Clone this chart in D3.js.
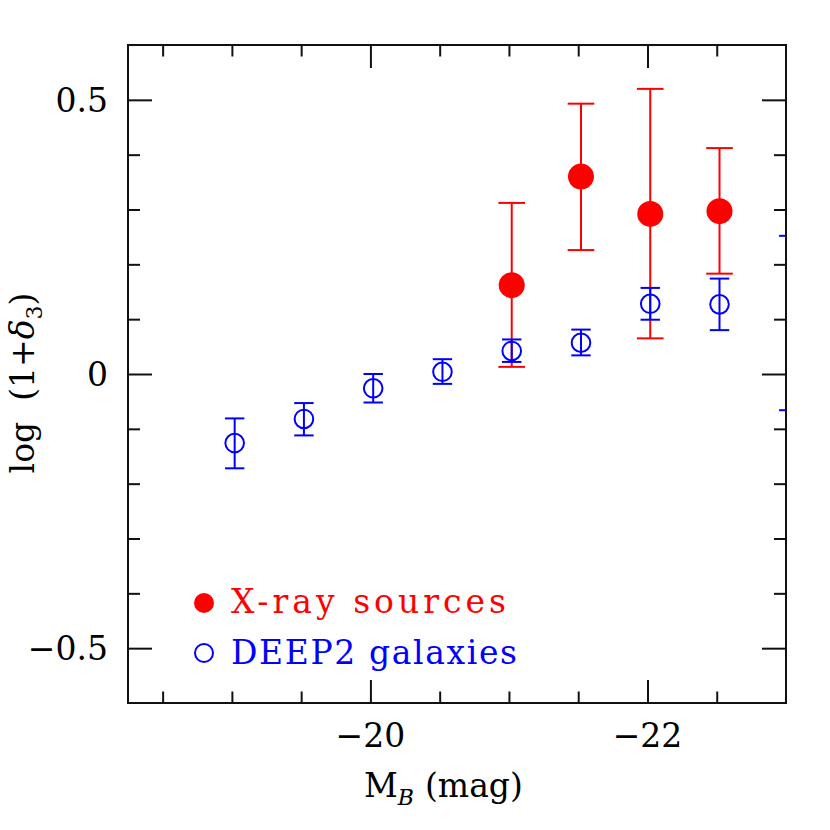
<!DOCTYPE html>
<html><head><meta charset="utf-8">
<script src="https://cdn.jsdelivr.net/npm/d3@7"></script>
<style>body{margin:0;background:#fff}svg{display:block}</style>
</head><body>
<svg id="c" width="830" height="830"></svg>
<script>
// Data
const deep2X   = [-19.02, -19.52, -20.02, -20.52, -21.02, -21.52, -22.02, -22.52, -23.02];
const deep2Y   = [-0.126, -0.082, -0.026, 0.004, 0.042, 0.057, 0.128, 0.127, 0.093];
const deep2Lo  = [-0.172, -0.112, -0.052, -0.018, 0.022, 0.034, 0.099, 0.080, -0.066];
const deep2Hi  = [-0.081, -0.053, 0.000, 0.027, 0.063, 0.081, 0.157, 0.174, 0.252];
const xrayX    = [-21.02, -21.52, -22.02, -22.52];
const xrayY    = [0.162, 0.360, 0.292, 0.297];
const xrayLo   = [0.013, 0.226, 0.065, 0.183];
const xrayHi   = [0.312, 0.493, 0.520, 0.412];
const xMajor   = [-20, -22];
const xMajorLabels = ["\u221220", "\u221222"];
const xMinor   = [-18.5, -19, -19.5, -20.5, -21, -21.5, -22.5];
const yMajor   = [-0.5, 0, 0.5];
const yMajorLabels = ["\u22120.5", "0", "0.5"];
const yMinor   = [-0.4, -0.3, -0.2, -0.1, 0.1, 0.2, 0.3, 0.4];
const legendLabels = ["X-ray sources", "DEEP2 galaxies"];

const L = 128, R = 786, T = 45, B = 703;
const x = d3.scaleLinear().domain([-18.25, -23]).range([L, R]);
const y = d3.scaleLinear().domain([-0.6, 0.6]).range([B, T]);
const svg = d3.select("#c");
const font = "'DejaVu Serif', serif";
const RED = "#ff0000", BLUE = "#0000ff";

// clip
svg.append("defs").append("clipPath").attr("id","clip")
  .append("rect").attr("x",L).attr("y",T).attr("width",R-L).attr("height",B-T);

// ticks via axes
function tickAxis(axisFn, scale, vals, size, transform){
  const g = svg.append("g").attr("transform", transform)
    .call(axisFn(scale).tickValues(vals).tickSize(size).tickFormat(""));
  g.select(".domain").remove();
  g.selectAll(".tick line").attr("stroke","#111").attr("stroke-width",2);
  return g;
}
tickAxis(d3.axisBottom, x, xMajor, -23, `translate(0,${B})`);
tickAxis(d3.axisBottom, x, xMinor, -11.5, `translate(0,${B})`);
tickAxis(d3.axisTop, x, xMajor, -23, `translate(0,${T})`);
tickAxis(d3.axisTop, x, xMinor, -11.5, `translate(0,${T})`);
tickAxis(d3.axisLeft, y, yMajor, -24, `translate(${L},0)`);
tickAxis(d3.axisLeft, y, yMinor, -12, `translate(${L},0)`);
tickAxis(d3.axisRight, y, yMajor, -24, `translate(${R},0)`);
tickAxis(d3.axisRight, y, yMinor, -12, `translate(${R},0)`);

// frame
svg.append("rect").attr("x",L).attr("y",T).attr("width",R-L).attr("height",B-T)
  .attr("fill","none").attr("stroke","#111").attr("stroke-width",2);

// tick labels
svg.append("g").selectAll("text").data(xMajor).join("text")
  .attr("x", d=>x(d)).attr("y", 747).attr("text-anchor","middle")
  .attr("font-family",font).attr("font-size",33)
  .text((d,i)=>xMajorLabels[i]);
svg.append("g").selectAll("text").data(yMajor).join("text")
  .attr("x", 108).attr("y", d=>y(d)).attr("dy","0.36em").attr("text-anchor","end")
  .attr("font-family",font).attr("font-size",33)
  .text((d,i)=>yMajorLabels[i]);

// axis titles
const xt = svg.append("text").attr("x",364).attr("y",797)
  .attr("font-family",font).attr("font-size",33);
xt.append("tspan").text("M");
xt.append("tspan").attr("font-size",22).attr("font-style","italic").attr("dy",8).text("B");
xt.append("tspan").attr("dy",-8).attr("x",425).text("(mag)");

const yt = svg.append("text").attr("transform","translate(34,383) rotate(-90)")
  .attr("text-anchor","middle").attr("font-family",font).attr("font-size",33);
yt.append("tspan").text("log\u00a0\u00a0(1+");
yt.append("tspan").attr("font-style","italic").text("\u03b4");
yt.append("tspan").attr("font-size",22).attr("dy",8).text("3");
yt.append("tspan").attr("dy",-8).text(")");

const plot = svg.append("g").attr("clip-path","url(#clip)");

function errBars(xs, lo, hi, color, capHalf){
  const g = plot.append("g").attr("stroke",color).attr("stroke-width",2);
  xs.forEach((xv,i)=>{
    g.append("line").attr("x1",x(xv)).attr("x2",x(xv)).attr("y1",y(lo[i])).attr("y2",y(hi[i]));
    [lo[i],hi[i]].forEach(v=>{
      g.append("line").attr("x1",x(xv)-capHalf).attr("x2",x(xv)+capHalf).attr("y1",y(v)).attr("y2",y(v));
    });
  });
}
errBars(xrayX, xrayLo, xrayHi, RED, 13.3);
errBars(deep2X, deep2Lo, deep2Hi, BLUE, 9.7);

// points (only those inside domain)
const inDom = v => v <= -18.25 && v >= -23;
plot.append("g").selectAll("circle").data(deep2X.map((v,i)=>[v,deep2Y[i]]).filter(d=>inDom(d[0])))
  .join("circle").attr("cx",d=>x(d[0])).attr("cy",d=>y(d[1])).attr("r",9.3)
  .attr("fill","none").attr("stroke",BLUE).attr("stroke-width",2);
plot.append("g").selectAll("circle").data(xrayX.map((v,i)=>[v,xrayY[i]]).filter(d=>inDom(d[0])))
  .join("circle").attr("cx",d=>x(d[0])).attr("cy",d=>y(d[1])).attr("r",13)
  .attr("fill",RED);

// legend
svg.append("circle").attr("cx",204).attr("cy",603).attr("r",10).attr("fill",RED);
svg.append("circle").attr("cx",204).attr("cy",653).attr("r",9).attr("fill","none")
  .attr("stroke",BLUE).attr("stroke-width",2);
svg.append("text").attr("x",231).attr("y",613).attr("font-family",font).attr("font-size",33)
  .attr("textLength",275).attr("lengthAdjust","spacing")
  .attr("fill",RED).text(legendLabels[0]);
svg.append("text").attr("x",231).attr("y",664).attr("font-family",font).attr("font-size",33)
  .attr("textLength",286).attr("lengthAdjust","spacing")
  .attr("fill",BLUE).text(legendLabels[1]);
</script>
</body></html>
